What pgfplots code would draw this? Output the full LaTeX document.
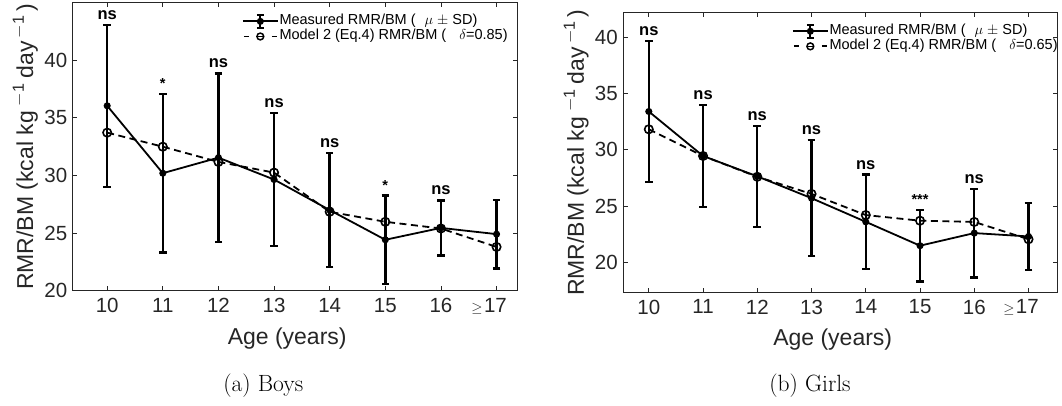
\documentclass[border=0pt]{standalone}
\usepackage{pgfplots}
\pgfplotsset{compat=1.18}
\usepackage{pgfplotstable}
\usepackage{graphicx}
\usepackage{fontspec}
\newfontfamily\helv{Liberation Sans}
\definecolor{axgray}{gray}{0.15}

\pgfplotstableread{
x y e
10 36.05 7.03
11 30.20 6.89
12 31.55 7.32
13 29.65 5.75
14 27.00 4.93
15 24.42 3.84
16 25.45 2.39
17 24.91 2.97
}\boysmeas
\pgfplotstableread{
x y
10 33.72
11 32.50
12 31.18
13 30.25
14 26.85
15 25.98
16 25.40
17 23.80
}\boysmodel
\pgfplotstableread{
x y l
10 43.08 ns
12 38.87 ns
13 35.40 ns
14 31.93 ns
16 27.84 ns
}\boysns
\pgfplotstableread{
x y l
11 37.09 *
15 28.26 *
}\boysstar

\pgfplotstableread{
x y e
10 33.40 6.27
11 29.45 4.51
12 27.64 4.49
13 25.70 5.15
14 23.60 4.20
15 21.48 3.18
16 22.60 3.93
17 22.30 2.99
}\girlsmeas
\pgfplotstableread{
x y
10 31.82
11 29.45
12 27.60
13 26.08
14 24.20
15 23.70
16 23.59
17 22.05
}\girlsmodel
\pgfplotstableread{
x y l
10 39.67 ns
11 33.96 ns
12 32.13 ns
13 30.85 ns
14 27.80 ns
16 26.53 ns
}\girlsns
\pgfplotstableread{
x y l
15 24.66 ***
}\girlsstar

\pgfplotsset{
  rmr/.style={
    scale only axis,
    anchor=south west,
    clip=false,
    axis line style={axgray, line width=0.8pt},
    tick style={axgray, line width=0.8pt},
    major tick length=4.5pt,
    tick align=inside,
    xtick pos=both, ytick pos=both,
    xtick={10,11,12,13,14,15,16,17},
    xticklabels={10,11,12,13,14,15,16,{{\fontsize{15}{15}\selectfont$\geq$}\kern1.5pt17\kern15pt}},
    ytick={20,25,30,35,40},
    yticklabels={20,25,30,35,40},
    ticklabel style={font=\helv\fontsize{20.5}{20.5}\selectfont, text=axgray},
    xticklabel style={yshift=-4pt},
    yticklabel style={xshift=-2pt},
    label style={font=\helv\fontsize{23}{23}\selectfont, text=axgray},
    xlabel={Age (years)},
    ylabel={RMR/BM (kcal kg\kern5pt\textsuperscript{$-$1}\kern5pt day\kern3pt\textsuperscript{$-$1}\kern4pt)},
    legend cell align=left,
  },
  meas/.style={black, line width=1.8pt, mark=*, mark size=2.6pt, mark options={solid},
    legend image code/.code={
      \draw[black, solid, line width=1.8pt] (0pt,0pt) -- (35pt,0pt);
      \draw[black, solid, line width=2pt] (17.5pt,-6.5pt) -- (17.5pt,6.5pt);
      \draw[black, solid, line width=2pt] (14pt,-6.5pt) -- (21pt,-6.5pt);
      \draw[black, solid, line width=2pt] (14pt,6.5pt) -- (21pt,6.5pt);
      \fill[black] (17.5pt,0pt) circle (2.6pt);
    },
    error bars/.cd, y dir=both, y explicit,
    error bar style={line width=2.4pt, black},
    error mark options={rotate=90, line width=2.4pt, mark size=3.8pt, black}},
  model/.style={black, line width=1.8pt, dash pattern=on 7pt off 4.5pt, mark=o, mark size=4.2pt,
    mark options={solid, line width=1.6pt},
    legend image code/.code={
      \draw[black, solid, line width=1.8pt] (1pt,0pt) -- (6pt,0pt);
      \draw[black, solid, line width=1.8pt] (29pt,0pt) -- (34pt,0pt);
      \draw[black, solid, line width=1.5pt] (17.5pt,0pt) circle (3.4pt);
      \draw[black, solid, line width=1.5pt] (14.1pt,0pt) -- (20.9pt,0pt);
    }},
  nsl/.style={draw=none, mark=none, forget plot, nodes near coords, point meta=explicit symbolic,
    nodes near coords style={anchor=base, yshift=5.5pt, text=black, font=\helv\bfseries\fontsize{16.5}{16.5}\selectfont}},
  starl/.style={draw=none, mark=none, forget plot, nodes near coords, point meta=explicit symbolic,
    nodes near coords style={anchor=base, yshift=5.5pt, text=black, font=\helv\bfseries\fontsize{14.5}{14.5}\selectfont}},
  legst/.style={legend style={draw=none, fill=none, anchor=north west,
    font=\helv\fontsize{14.5}{14.5}\selectfont, inner sep=0pt, row sep=0pt,
    nodes={text height=10pt, text depth=3.5pt, inner sep=0.8pt}}},
}

\begin{document}
\begin{tikzpicture}
\path[use as bounding box] (0pt,0pt) rectangle (1062pt,406pt);

% (a) Boys
\begin{axis}[rmr, legst,
  at={(72.7pt,115.3pt)}, width=445pt, height=288pt,
  xmin=9.38, xmax=17.38, ymin=20, ymax=45,
  xlabel style={at={(axis description cs:0.482,-0.1885)}, anchor=base},
  ylabel style={at={(axis description cs:-0.0892,0.5)}, anchor=base},
  legend style={at={(axis description cs:0.3798,0.962)}},
]
\addplot[meas] table[x=x, y=y, y error=e] {\boysmeas};
\addlegendentry{Measured RMR/BM (\hspace{9pt}$\mu$ $\pm$ SD)}
\addplot[model] table[x=x, y=y] {\boysmodel};
\addlegendentry{Model 2 (Eq.4) RMR/BM (\hspace{13pt}$\delta$=0.85)}
\addplot[nsl] table[x=x, y=y, meta=l] {\boysns};
\addplot[starl] table[x=x, y=y, meta=l] {\boysstar};
\end{axis}

% (b) Girls
\begin{axis}[rmr, legst,
  at={(623.3pt,113.7pt)}, width=434.5pt, height=279.4pt,
  xmin=9.53, xmax=17.54, ymin=17.34, ymax=42.16,
  xlabel style={at={(axis description cs:0.482,-0.1915)}, anchor=base},
  ylabel style={at={(axis description cs:-0.0905,0.5)}, anchor=base},
  legend style={at={(axis description cs:0.3876,0.962)}},
]
\addplot[meas] table[x=x, y=y, y error=e] {\girlsmeas};
\addlegendentry{Measured RMR/BM (\hspace{9pt}$\mu$ $\pm$ SD)}
\addplot[model] table[x=x, y=y] {\girlsmodel};
\addlegendentry{Model 2 (Eq.4) RMR/BM (\hspace{13pt}$\delta$=0.65)}
\addplot[nsl] table[x=x, y=y, meta=l] {\girlsns};
\addplot[starl] table[x=x, y=y, meta=l] {\girlsstar};
\end{axis}

\node[font=\fontsize{23.5}{23.5}\selectfont, anchor=base] at (263.3pt,14.3pt) {(a) Boys};
\node[font=\fontsize{23.5}{23.5}\selectfont, anchor=base] at (810pt,14.3pt) {(b) Girls};
\end{tikzpicture}
\end{document}
